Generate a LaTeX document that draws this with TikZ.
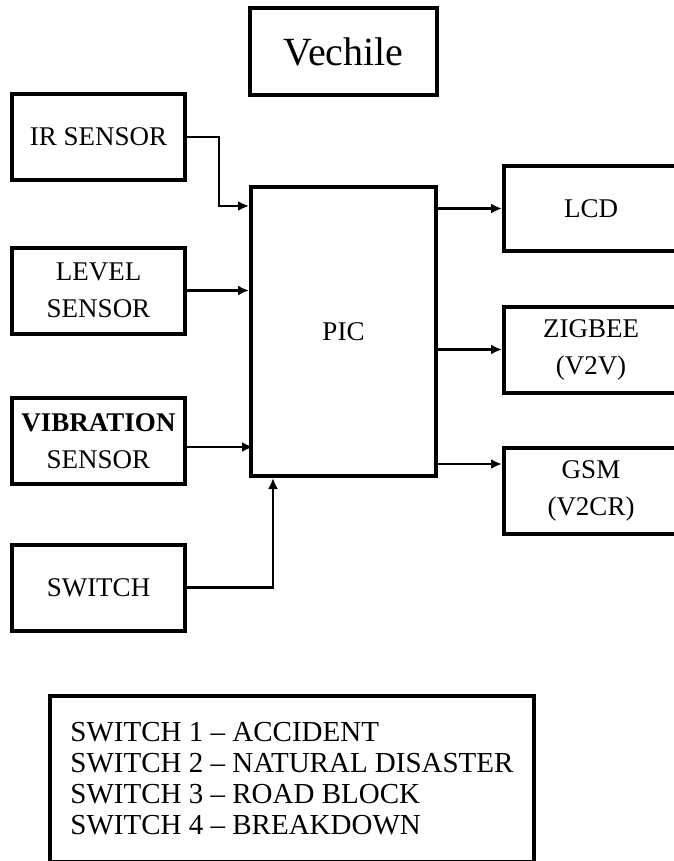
\documentclass[tikz,border=0pt]{standalone}
\usepackage{fontspec}
\setmainfont{Liberation Serif}
\usepackage{tikz}
\usetikzlibrary{calc,positioning,arrows.meta}

\begin{document}
\begin{tikzpicture}[
  x=1pt, y=-1pt,
  box/.style={draw, line width=4pt, align=center,
              minimum width=173pt, minimum height=86pt,
              font=\fontsize{27}{37}\selectfont},
  outbox/.style={box, minimum width=174pt},
  arr/.style={line width=2.4pt, -{Latex[length=11pt,width=10pt]}}]
\useasboundingbox (0,0) rectangle (673,861);
\node[box, minimum width=187pt, minimum height=87pt,
      font=\fontsize{40}{48}\selectfont] (veh) at (343.5,51.5) {Vechile};
\node[box] (ir)    at (98.5,137)   {IR SENSOR};
\node[box] (level) at (98.5,290.5) {LEVEL\\SENSOR};
\node[box] (vib)   at (98.5,441)   {\textbf{VIBRATION}\\SENSOR};
\node[box] (sw)    at (98.5,587.5) {SWITCH};
\node[box, minimum width=185pt, minimum height=289pt] (pic) at (343.5,331.5) {PIC};
\node[outbox, minimum height=85pt] (lcd) at (591,208.5) {LCD};
\node[outbox] (zig) at (591,349.5) {ZIGBEE\\(V2V)};
\node[outbox] (gsm) at (591,491)   {GSM\\(V2CR)};
\node[draw, line width=4pt, align=left, minimum width=484pt, minimum height=166pt,
      font=\fontsize{29}{31}\selectfont] (legend) at (292,779)
  {SWITCH 1 -- ACCIDENT\\SWITCH 2 -- NATURAL DISASTER\\SWITCH 3 -- ROAD BLOCK\\SWITCH 4 -- BREAKDOWN};
\draw[arr] (ir.east) -- ++(32,0) |- ([yshift=-21pt]pic.north west);
\draw[arr] (level.east) -- (level.east -| pic.west);
\draw[arr] ([yshift=-6pt]vib.east) -- ++(66,0);
\draw[arr] (sw.east) -| ([xshift=24pt]pic.south west);
\draw[arr] (pic.east |- lcd.west) -- (lcd.west);
\draw[arr] (pic.east |- zig.west) -- (zig.west);
\coordinate (gsmin) at ([yshift=27pt]gsm.west);
\draw[arr] (pic.east |- gsmin) -- (gsmin);
\end{tikzpicture}
\end{document}
